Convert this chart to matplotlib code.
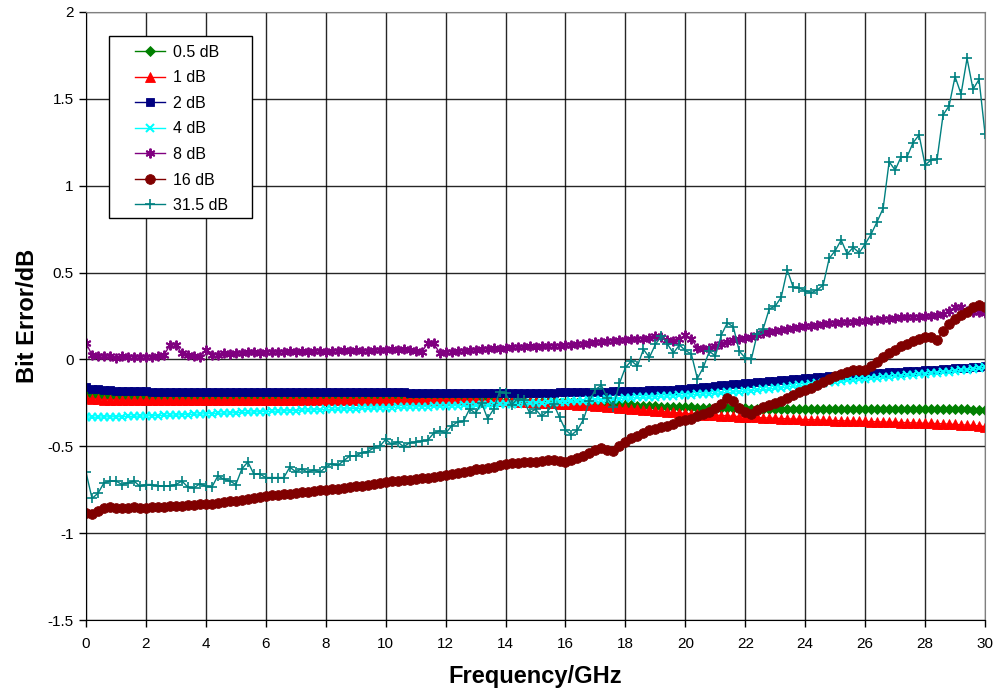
import numpy as np
import matplotlib
matplotlib.use("Agg")
import matplotlib.pyplot as plt
from matplotlib.lines import Line2D
from matplotlib.patches import Rectangle

plt.rcParams["font.family"] = ["Liberation Sans", "DejaVu Sans"]

# frequency axis, 0.2 GHz steps
freq = np.arange(151) * 0.2

err_05 = [
    -0.195, -0.205, -0.210, -0.213, -0.215, -0.217, -0.218, -0.218, -0.219, -0.219,
    -0.220, -0.220, -0.220, -0.220, -0.221, -0.221, -0.221, -0.221, -0.222, -0.222,
    -0.222, -0.222, -0.222, -0.222, -0.222, -0.223, -0.223, -0.223, -0.223, -0.223,
    -0.223, -0.223, -0.224, -0.224, -0.224, -0.224, -0.224, -0.224, -0.225, -0.225,
    -0.225, -0.225, -0.225, -0.225, -0.225, -0.226, -0.226, -0.226, -0.226, -0.226,
    -0.226, -0.227, -0.227, -0.227, -0.227, -0.228, -0.228, -0.228, -0.229, -0.229,
    -0.230, -0.230, -0.231, -0.232, -0.233, -0.234, -0.235, -0.236, -0.237, -0.238,
    -0.239, -0.240, -0.241, -0.242, -0.243, -0.244, -0.245, -0.246, -0.247, -0.248,
    -0.250, -0.251, -0.252, -0.254, -0.255, -0.257, -0.258, -0.260, -0.261, -0.262,
    -0.264, -0.265, -0.266, -0.267, -0.268, -0.270, -0.271, -0.272, -0.273, -0.274,
    -0.275, -0.276, -0.277, -0.278, -0.278, -0.279, -0.280, -0.281, -0.281, -0.282,
    -0.282, -0.283, -0.283, -0.284, -0.284, -0.285, -0.285, -0.285, -0.286, -0.286,
    -0.286, -0.287, -0.287, -0.287, -0.287, -0.287, -0.287, -0.286, -0.286, -0.286,
    -0.286, -0.285, -0.285, -0.284, -0.284, -0.284, -0.283, -0.283, -0.283, -0.283,
    -0.283, -0.283, -0.284, -0.284, -0.285, -0.286, -0.287, -0.288, -0.289, -0.290,
    -0.291,
]

err_1 = [
    -0.222, -0.226, -0.229, -0.231, -0.232, -0.233, -0.234, -0.234, -0.235, -0.235,
    -0.235, -0.235, -0.235, -0.235, -0.235, -0.235, -0.235, -0.234, -0.234, -0.234,
    -0.234, -0.234, -0.234, -0.233, -0.233, -0.233, -0.233, -0.233, -0.232, -0.232,
    -0.232, -0.232, -0.232, -0.232, -0.231, -0.231, -0.231, -0.231, -0.231, -0.231,
    -0.231, -0.231, -0.231, -0.231, -0.231, -0.231, -0.231, -0.231, -0.231, -0.231,
    -0.231, -0.231, -0.231, -0.232, -0.232, -0.232, -0.232, -0.233, -0.233, -0.233,
    -0.234, -0.234, -0.235, -0.235, -0.236, -0.236, -0.237, -0.238, -0.239, -0.240,
    -0.241, -0.242, -0.243, -0.244, -0.246, -0.247, -0.249, -0.250, -0.252, -0.254,
    -0.256, -0.258, -0.260, -0.262, -0.264, -0.267, -0.269, -0.272, -0.275, -0.278,
    -0.281, -0.284, -0.287, -0.290, -0.293, -0.296, -0.299, -0.302, -0.305, -0.308,
    -0.311, -0.313, -0.315, -0.317, -0.319, -0.321, -0.323, -0.325, -0.327, -0.329,
    -0.331, -0.333, -0.334, -0.336, -0.337, -0.339, -0.340, -0.342, -0.343, -0.345,
    -0.346, -0.347, -0.348, -0.350, -0.351, -0.352, -0.353, -0.354, -0.355, -0.356,
    -0.357, -0.358, -0.359, -0.360, -0.361, -0.362, -0.363, -0.364, -0.365, -0.366,
    -0.367, -0.368, -0.369, -0.371, -0.372, -0.374, -0.376, -0.378, -0.380, -0.383,
    -0.387,
]

err_2 = [
    -0.160, -0.168, -0.173, -0.176, -0.178, -0.180, -0.181, -0.182, -0.183, -0.184,
    -0.184, -0.185, -0.185, -0.185, -0.185, -0.185, -0.185, -0.185, -0.185, -0.185,
    -0.185, -0.185, -0.185, -0.185, -0.185, -0.185, -0.185, -0.185, -0.185, -0.185,
    -0.185, -0.186, -0.186, -0.186, -0.186, -0.186, -0.187, -0.187, -0.187, -0.187,
    -0.187, -0.188, -0.188, -0.188, -0.188, -0.189, -0.189, -0.189, -0.189, -0.190,
    -0.190, -0.190, -0.190, -0.190, -0.191, -0.191, -0.191, -0.191, -0.191, -0.191,
    -0.192, -0.192, -0.192, -0.192, -0.192, -0.192, -0.192, -0.192, -0.192, -0.192,
    -0.192, -0.192, -0.192, -0.192, -0.192, -0.191, -0.191, -0.191, -0.191, -0.190,
    -0.190, -0.189, -0.189, -0.188, -0.187, -0.187, -0.186, -0.185, -0.184, -0.183,
    -0.182, -0.181, -0.180, -0.179, -0.178, -0.177, -0.176, -0.175, -0.174, -0.171,
    -0.168, -0.165, -0.162, -0.159, -0.156, -0.153, -0.150, -0.147, -0.144, -0.141,
    -0.138, -0.135, -0.132, -0.129, -0.126, -0.123, -0.120, -0.117, -0.114, -0.111,
    -0.108, -0.105, -0.102, -0.099, -0.096, -0.093, -0.090, -0.088, -0.086, -0.084,
    -0.082, -0.080, -0.078, -0.076, -0.074, -0.072, -0.070, -0.068, -0.066, -0.064,
    -0.062, -0.060, -0.058, -0.056, -0.054, -0.052, -0.050, -0.047, -0.044, -0.041,
    -0.038,
]

err_4 = [
    -0.330, -0.333, -0.332, -0.331, -0.330, -0.330, -0.329, -0.328, -0.327, -0.326,
    -0.325, -0.324, -0.323, -0.322, -0.321, -0.320, -0.318, -0.317, -0.316, -0.314,
    -0.313, -0.312, -0.310, -0.309, -0.308, -0.306, -0.305, -0.304, -0.302, -0.301,
    -0.300, -0.299, -0.297, -0.296, -0.295, -0.294, -0.292, -0.291, -0.290, -0.289,
    -0.288, -0.287, -0.286, -0.285, -0.284, -0.283, -0.282, -0.281, -0.280, -0.279,
    -0.278, -0.277, -0.276, -0.275, -0.274, -0.273, -0.272, -0.271, -0.270, -0.269,
    -0.268, -0.267, -0.266, -0.265, -0.264, -0.263, -0.262, -0.261, -0.259, -0.258,
    -0.257, -0.256, -0.254, -0.253, -0.252, -0.250, -0.249, -0.247, -0.246, -0.244,
    -0.243, -0.241, -0.239, -0.237, -0.235, -0.233, -0.231, -0.229, -0.227, -0.225,
    -0.223, -0.221, -0.219, -0.218, -0.216, -0.214, -0.212, -0.210, -0.209, -0.207,
    -0.205, -0.203, -0.201, -0.199, -0.197, -0.195, -0.193, -0.190, -0.188, -0.185,
    -0.182, -0.179, -0.176, -0.173, -0.170, -0.166, -0.162, -0.158, -0.154, -0.150,
    -0.146, -0.142, -0.138, -0.134, -0.130, -0.127, -0.124, -0.121, -0.118, -0.115,
    -0.112, -0.109, -0.106, -0.103, -0.100, -0.097, -0.094, -0.091, -0.088, -0.085,
    -0.082, -0.079, -0.076, -0.073, -0.070, -0.067, -0.063, -0.059, -0.055, -0.050,
    -0.045,
]

err_8 = [
    0.095, 0.025, 0.018, 0.020, 0.018, 0.008, 0.020, 0.015, 0.015, 0.012,
    0.015, 0.013, 0.018, 0.025, 0.082, 0.085, 0.035, 0.028, 0.022, 0.015,
    0.055, 0.025, 0.028, 0.035, 0.030, 0.038, 0.035, 0.040, 0.042, 0.035,
    0.042, 0.045, 0.040, 0.045, 0.048, 0.045, 0.048, 0.045, 0.050, 0.048,
    0.045, 0.050, 0.048, 0.052, 0.050, 0.055, 0.050, 0.048, 0.052, 0.055,
    0.052, 0.058, 0.055, 0.058, 0.055, 0.050, 0.040, 0.095, 0.092, 0.038,
    0.042, 0.045, 0.048, 0.050, 0.052, 0.055, 0.058, 0.062, 0.065, 0.062,
    0.068, 0.070, 0.072, 0.070, 0.075, 0.072, 0.078, 0.075, 0.080, 0.078,
    0.082, 0.085, 0.088, 0.090, 0.095, 0.098, 0.102, 0.105, 0.108, 0.110,
    0.112, 0.115, 0.118, 0.120, 0.125, 0.135, 0.130, 0.112, 0.105, 0.115,
    0.140, 0.120, 0.065, 0.062, 0.068, 0.075, 0.088, 0.100, 0.110, 0.118,
    0.125, 0.132, 0.140, 0.150, 0.158, 0.165, 0.172, 0.178, 0.182, 0.186,
    0.190, 0.194, 0.198, 0.202, 0.208, 0.212, 0.215, 0.215, 0.218, 0.220,
    0.222, 0.225, 0.228, 0.232, 0.235, 0.238, 0.242, 0.242, 0.245, 0.246,
    0.248, 0.250, 0.255, 0.262, 0.280, 0.300, 0.302, 0.280, 0.275, 0.272,
    0.265,
]

err_16 = [
    -0.883, -0.890, -0.875, -0.855, -0.852, -0.853, -0.855, -0.853, -0.852, -0.853,
    -0.853, -0.852, -0.850, -0.848, -0.846, -0.845, -0.842, -0.838, -0.836, -0.832,
    -0.830, -0.830, -0.826, -0.820, -0.816, -0.813, -0.808, -0.803, -0.798, -0.792,
    -0.787, -0.783, -0.780, -0.776, -0.772, -0.768, -0.765, -0.762, -0.758, -0.754,
    -0.751, -0.748, -0.744, -0.740, -0.736, -0.731, -0.726, -0.722, -0.718, -0.714,
    -0.708, -0.702, -0.698, -0.695, -0.692, -0.688, -0.684, -0.680, -0.676, -0.671,
    -0.664, -0.658, -0.652, -0.647, -0.640, -0.633, -0.628, -0.626, -0.617, -0.610,
    -0.603, -0.598, -0.594, -0.592, -0.590, -0.588, -0.582, -0.578, -0.577, -0.585,
    -0.590, -0.580, -0.570, -0.556, -0.540, -0.524, -0.510, -0.522, -0.528, -0.498,
    -0.475, -0.455, -0.440, -0.422, -0.406, -0.398, -0.390, -0.383, -0.372, -0.355,
    -0.350, -0.345, -0.328, -0.315, -0.300, -0.282, -0.255, -0.220, -0.238, -0.278,
    -0.300, -0.312, -0.290, -0.275, -0.262, -0.250, -0.238, -0.222, -0.206, -0.190,
    -0.178, -0.165, -0.148, -0.128, -0.110, -0.095, -0.082, -0.070, -0.062, -0.058,
    -0.058, -0.040, -0.015, 0.012, 0.035, 0.055, 0.075, 0.090, 0.105, 0.118,
    0.127, 0.127, 0.112, 0.165, 0.205, 0.235, 0.255, 0.275, 0.300, 0.312,
    0.300,
]

err_315 = [
    -0.650, -0.800, -0.770, -0.710, -0.700, -0.700, -0.720, -0.710, -0.700, -0.730,
    -0.720, -0.720, -0.730, -0.730, -0.730, -0.720, -0.700, -0.735, -0.740, -0.715,
    -0.730, -0.735, -0.670, -0.690, -0.700, -0.720, -0.630, -0.590, -0.660, -0.660,
    -0.680, -0.680, -0.680, -0.680, -0.620, -0.647, -0.630, -0.650, -0.635, -0.650,
    -0.620, -0.600, -0.610, -0.583, -0.556, -0.556, -0.537, -0.530, -0.510, -0.500,
    -0.460, -0.489, -0.475, -0.502, -0.480, -0.475, -0.470, -0.465, -0.425, -0.410,
    -0.425, -0.383, -0.360, -0.355, -0.285, -0.310, -0.250, -0.340, -0.287, -0.186,
    -0.196, -0.263, -0.225, -0.234, -0.307, -0.287, -0.326, -0.300, -0.254, -0.333,
    -0.406, -0.435, -0.406, -0.345, -0.240, -0.172, -0.150, -0.224, -0.272, -0.138,
    -0.046, -0.008, -0.038, 0.058, 0.012, 0.086, 0.135, 0.089, 0.037, 0.083,
    0.052, 0.031, -0.110, -0.046, 0.047, 0.020, 0.141, 0.210, 0.188, 0.047,
    0.009, 0.000, 0.148, 0.177, 0.291, 0.307, 0.359, 0.515, 0.415, 0.410,
    0.396, 0.384, 0.400, 0.428, 0.582, 0.626, 0.687, 0.607, 0.645, 0.614,
    0.664, 0.722, 0.793, 0.870, 1.138, 1.090, 1.167, 1.167, 1.248, 1.292,
    1.119, 1.148, 1.152, 1.407, 1.459, 1.628, 1.528, 1.733, 1.555, 1.612,
    1.300,
]

labels = ["0.5 dB", "1 dB", "2 dB", "4 dB", "8 dB", "16 dB", "31.5 dB"]
x_ticks = list(range(0, 31, 2))
y_ticks = [-1.5, -1, -0.5, 0, 0.5, 1, 1.5, 2]
y_tick_labels = ["-1.5", "-1", "-0.5", "0", "0.5", "1", "1.5", "2"]

series = [err_05, err_1, err_2, err_4, err_8, err_16, err_315]
styles = [
    dict(color="#008000", marker="D", ms=5.0, mew=0.6),
    dict(color="#FF0000", marker="^", ms=6.5, mew=0.6),
    dict(color="#000080", marker="s", ms=5.8, mew=0.6),
    dict(color="#00FFFF", marker="x", ms=5.5, mew=1.5),
    dict(color="#800080", marker=(6, 2, 0), ms=7.0, mew=1.4),
    dict(color="#800000", marker="o", ms=7.0, mew=0.6),
    dict(color="#008080", marker="+", ms=7.5, mew=1.2),
]

fig = plt.figure(figsize=(9.98, 6.93), dpi=100)
ax = fig.add_axes([0.0862, 0.1053, 0.9008, 0.8774])

for vals, lab, st in zip(series, labels, styles):
    ax.plot(freq, vals, color=st["color"], linewidth=1.0, marker=st["marker"],
            markersize=st["ms"], markeredgewidth=st["mew"],
            markerfacecolor=st["color"], markeredgecolor=st["color"], label=lab)

ax.set_xlim(0, 30)
ax.set_ylim(-1.5, 2)
ax.set_xticks(x_ticks)
ax.set_yticks(y_ticks)
ax.set_yticklabels(y_tick_labels)
ax.tick_params(axis="y", direction="out", length=5, width=1, labelsize=11, pad=4)
ax.tick_params(axis="x", direction="out", length=5, width=1, labelsize=11, pad=7)
ax.grid(True, color="black", linewidth=1.0, alpha=0.85)
ax.set_axisbelow(True)
for side in ["top", "right"]:
    ax.spines[side].set_color("#808080")
for side in ["left", "bottom"]:
    ax.spines[side].set_color("black")

ax.set_xlabel("Frequency/GHz", fontsize=17, fontweight="bold", labelpad=10)
ax.set_ylabel("Bit Error/dB", fontsize=17, fontweight="bold", labelpad=6)

# legend frame drawn separately (wide side padding, tight top/bottom)
ax.add_patch(Rectangle((0.0259, 0.6612), 0.1584, 0.2993, transform=ax.transAxes,
                       facecolor="white", edgecolor="black", linewidth=1.0, zorder=10))

handles = [
    Line2D([0], [0], color=st["color"], linewidth=1.0, marker=st["marker"],
           markersize=st["ms"], markeredgewidth=st["mew"],
           markerfacecolor=st["color"], markeredgecolor=st["color"], label=lab)
    for lab, st in zip(labels, styles)
]
leg = ax.legend(handles=handles, loc="upper left", bbox_to_anchor=(0.0545, 0.946),
                fontsize=11.5, frameon=False, handlelength=1.9, labelspacing=0.66,
                borderpad=0.0, handletextpad=0.45, borderaxespad=0.0)
leg.set_zorder(11)

fig.savefig("out.png", dpi=100)
